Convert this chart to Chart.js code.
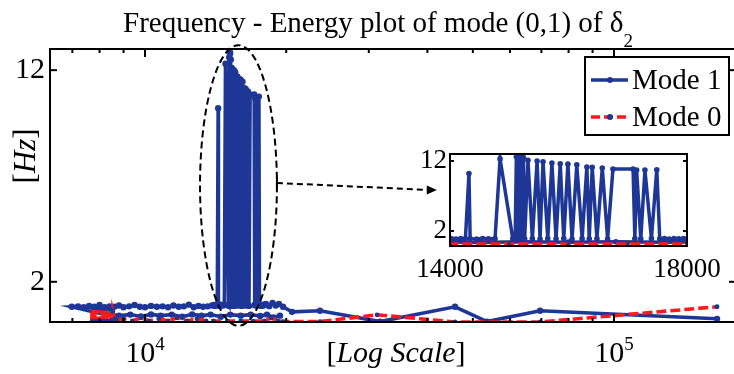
<!DOCTYPE html>
<html>
<head>
<meta charset="utf-8">
<script src="https://cdn.jsdelivr.net/npm/chart.js@4.4.0/dist/chart.umd.min.js"></script>
<style>
html, body { margin: 0; padding: 0; background: #fff; overflow: hidden; }
#wrap { position: relative; width: 734px; height: 374px; overflow: hidden; }
#main { position: absolute; left: 0; top: 0; }
#inset { position: absolute; left: 395px; top: 130px; }
</style>
</head>
<body>
<div id="wrap">
<canvas id="main" width="740" height="374"></canvas>
<canvas id="inset" width="340" height="160"></canvas>
</div>
<script>
// Mode 1 - in pieces (drawn in this order)
const lowerBandX = [19400, 18800, 18200, 17600, 16800, 16000, 15200, 14500, 13800, 13200, 12600, 12000, 11400, 10800, 10300, 9800, 9300, 8800, 8500, 8220]
const lowerBandY = [0.40, 0.32, 0.45, 0.38, 0.45, 0.40, 0.45, 0.35, 0.45, 0.40, 0.46, 0.35, 0.45, 0.40, 0.46, 0.36, 0.45, 0.40, 0.46, 0.44]
const upperBandX = [6980, 7200, 7400, 7600, 7800, 8000, 8200, 8400, 8600, 8800, 9000, 9250, 9500, 9750, 10000, 10300, 10600, 10900, 11200, 11500, 11800, 12100, 12400, 12700, 13000, 13300, 13600, 13900]
const upperBandY = [0.82, 0.84, 0.80, 0.86, 0.82, 0.90, 0.80, 0.84, 0.82, 0.88, 0.80, 0.84, 0.90, 0.82, 0.80, 0.86, 0.82, 0.84, 0.80, 0.88, 0.82, 0.84, 0.92, 0.80, 0.86, 0.82, 0.84, 0.88]
const burstX = [14020, 14100, 14180, 14260, 14320, 14340, 14450, 14550, 14650, 14760, 14845, 15060, 15100, 15120, 15135, 15150, 15170, 15190, 15210, 15240, 15260, 15316, 15390, 15470, 15520, 15570, 15650, 15720, 15790, 15860, 15920, 15990, 16060, 16140, 16230, 16310, 16350, 16400, 16480, 16570, 16660, 16750, 17090, 17120, 17150, 17220, 17290, 17400, 17490, 17540, 17620, 17700, 17780, 17860, 17940]
const burstY = [0.90, 0.86, 0.92, 0.88, 10.2, 0.90, 0.86, 0.92, 0.88, 0.90, 12.3, 0.90, 0.86, 12.6, 0.90, 12.95, 0.86, 12.8, 0.92, 12.5, 0.88, 12.1, 0.90, 12.0, 0.86, 11.9, 0.90, 11.7, 0.88, 11.6, 0.92, 11.55, 0.86, 11.45, 0.90, 11.15, 0.88, 11.1, 0.90, 11.0, 0.86, 10.85, 10.85, 0.90, 10.7, 0.88, 10.7, 0.92, 10.75, 0.88, 0.90, 0.86, 0.92, 0.88, 0.90]
const tailX = [18100, 18400, 18700, 19000, 19300, 19690, 20580, 23610, 31700, 45810, 53610, 69550, 165800]
const tailY = [0.95, 0.85, 1.0, 0.88, 0.95, 0.82, 0.58, 0.63, 0.12, 0.82, 0.12, 0.63, 0.25]

// Mode 0
const mode0X = [7700, 7710, 7760, 7770, 7820, 7830, 7880, 7890, 7940, 7950, 8000, 8010, 8070, 8080, 8140, 8150, 8210, 8220, 8290, 8300, 8370, 8380, 8450, 8460, 8530, 8540, 8620, 8700, 9000, 9400, 9800, 10200, 10700, 11200, 11700, 12300, 12900, 13500, 14000, 15000, 16000, 17000, 18000, 18600, 19200, 19690, 23610, 31240, 45810, 53600, 69550, 165800]
const mode0Y = [0.12, 0.78, 0.78, 0.12, 0.12, 0.78, 0.78, 0.12, 0.12, 0.76, 0.76, 0.12, 0.12, 0.76, 0.76, 0.14, 0.14, 0.74, 0.74, 0.14, 0.14, 0.72, 0.72, 0.16, 0.16, 0.60, 0.25, 0.20, 0.25, 0.15, 0.30, 0.15, 0.25, 0.15, 0.30, 0.15, 0.25, 0.15, 0.15, 0.14, 0.15, 0.14, 0.15, 0.30, 0.15, 0.12, 0.12, 0.44, 0.10, 0.10, 0.10, 0.82]

// ticks
const yTicks = [2, 12]
const xMinorTicks = [7000, 8000, 9000, 10000, 20000, 30000, 40000, 50000, 60000, 70000, 80000, 90000, 100000]
const xLabelTicks = [10000, 100000]
const xLabelExp = ['4', '5']
const insetXTicks = [14000, 18000]

// dashed ellipse round the burst, and arrow to the inset (data units)
const ellipseX = [13100, 19110]
const ellipseY = [-0.08, 13.18]
const arrowX = [19110, 41900]
const arrowY = [6.67, 6.34]

const blue = '#1e3796'
const red = '#ff1a1a'
const serif = "'Liberation Serif', 'Times New Roman', serif"

Chart.defaults.font.family = serif
Chart.defaults.color = '#000'

function pts(xs, ys) {
    return xs.map((x, i) => ({ x: x, y: ys[i] }))
}

const mode1 = pts([...lowerBandX, ...upperBandX, ...burstX, ...tailX], [...lowerBandY, ...upperBandY, ...burstY, ...tailY])
const mode0 = pts(mode0X, mode0Y)

function datasets(w, r) {
    return [{
        label: 'Mode 0',
        order: 0,
        data: mode0,
        borderColor: red,
        borderDash: [10, 4],
        borderWidth: w,
        pointRadius: r - 0.8,
        pointBorderWidth: 0,
        pointBackgroundColor: blue,
        tension: 0
    }, {
        label: 'Mode 1',
        order: 1,
        data: mode1,
        borderColor: blue,
        borderWidth: w,
        pointRadius: r,
        pointBorderWidth: 0,
        pointBackgroundColor: blue,
        tension: 0
    }]
}

function line(ctx, x1, y1, x2, y2) {
    ctx.beginPath()
    ctx.moveTo(x1, y1)
    ctx.lineTo(x2, y2)
    ctx.stroke()
}

// mixed upright/italic text, like matlab latex labels
function mixed(ctx, parts, size, cx, cy) {
    let w = 0
    parts.forEach(p => {
        ctx.font = (p[1] ? 'italic ' : '') + size + 'px ' + serif
        w += ctx.measureText(p[0]).width
    })
    let sx = cx - w / 2
    ctx.textAlign = 'left'
    ctx.textBaseline = 'alphabetic'
    parts.forEach(p => {
        ctx.font = (p[1] ? 'italic ' : '') + size + 'px ' + serif
        ctx.fillText(p[0], sx, cy)
        sx += ctx.measureText(p[0]).width
    })
}

const mainDeco = {
    id: 'mainDeco',
    afterDatasetsDraw(chart) {
        const { ctx, chartArea: a, scales: { x, y } } = chart
        ctx.save()
        ctx.fillStyle = '#000'
        ctx.strokeStyle = '#000'

        // ellipse + arrow
        const el = x.getPixelForValue(ellipseX[0]), er = x.getPixelForValue(ellipseX[1])
        const eb = y.getPixelForValue(ellipseY[0]), et = y.getPixelForValue(ellipseY[1])
        ctx.lineWidth = 2
        ctx.setLineDash([7, 4])
        ctx.beginPath()
        ctx.ellipse((el + er) / 2, (eb + et) / 2, (er - el) / 2, (eb - et) / 2, 0, 0, Math.PI * 2)
        ctx.stroke()
        const ax1 = x.getPixelForValue(arrowX[0]), ay1 = y.getPixelForValue(arrowY[0])
        const ax2 = x.getPixelForValue(arrowX[1]), ay2 = y.getPixelForValue(arrowY[1])
        ctx.setLineDash([6, 4])
        line(ctx, ax1, ay1, ax2 - 8, ay2)
        ctx.setLineDash([])
        line(ctx, ax1, ay1 - 6, ax1, ay1 + 6)
        ctx.beginPath()
        ctx.moveTo(ax2, ay2)
        ctx.lineTo(ax2 - 10, ay2 - 4.5)
        ctx.lineTo(ax2 - 10, ay2 + 4.5)
        ctx.closePath()
        ctx.fill()

        // box and inward ticks
        ctx.lineWidth = 2
        ctx.strokeRect(a.left, a.top, a.right - a.left, a.bottom - a.top)
        xMinorTicks.forEach(v => {
            const p = x.getPixelForValue(v)
            const len = xLabelTicks.includes(v) ? 8 : 4
            line(ctx, p, a.bottom, p, a.bottom - len)
            line(ctx, p, a.top, p, a.top + len)
        })
        yTicks.forEach(v => {
            const p = y.getPixelForValue(v)
            line(ctx, a.left, p, a.left + 7, p)
            line(ctx, a.right, p, a.right - 7, p)
        })

        // 10^4, 10^5
        xLabelTicks.forEach((v, i) => {
            const p = x.getPixelForValue(v)
            ctx.font = '30px ' + serif
            const wb = ctx.measureText('10').width
            ctx.font = '19px ' + serif
            const we = ctx.measureText(xLabelExp[i]).width
            const sx = p - (wb + we) / 2
            ctx.textAlign = 'left'
            ctx.textBaseline = 'alphabetic'
            ctx.font = '30px ' + serif
            ctx.fillText('10', sx, a.bottom + 40)
            ctx.font = '19px ' + serif
            ctx.fillText(xLabelExp[i], sx + wb, a.bottom + 28)
        })

        // axis titles
        mixed(ctx, [['[', false], ['Log Scale', true], [']', false]], 30, 396, a.bottom + 40)
        ctx.save()
        ctx.translate(35, 156)
        ctx.rotate(-Math.PI / 2)
        mixed(ctx, [['[', false], ['Hz', true], [']', false]], 31, 0, 0)
        ctx.restore()

        // title with subscript
        const t1 = 'Frequency - Energy plot of mode (0,1) of δ'
        ctx.font = '29px ' + serif
        const w1 = ctx.measureText(t1).width
        ctx.font = '19px ' + serif
        const w2 = ctx.measureText('2').width
        const tx = 378 - (w1 + w2) / 2
        ctx.font = '29px ' + serif
        ctx.fillText(t1, tx, 32)
        ctx.font = '19px ' + serif
        ctx.fillText('2', tx + w1, 47)

        // legend
        const lx = a.right - 151, ly = a.top + 8
        ctx.fillStyle = '#fff'
        ctx.fillRect(lx, ly, 144, 78)
        ctx.lineWidth = 2
        ctx.strokeRect(lx, ly, 144, 78)
        const rows = [['Mode 1', blue, []], ['Mode 0', red, [9, 4]]]
        rows.forEach((r, i) => {
            const ry = ly + 23 + i * 37
            ctx.strokeStyle = r[1]
            ctx.lineWidth = 3.5
            ctx.setLineDash(r[2])
            line(ctx, lx + 6, ry, lx + 43, ry)
            ctx.setLineDash([])
            ctx.fillStyle = blue
            ctx.beginPath()
            ctx.arc(lx + 25, ry, 3, 0, Math.PI * 2)
            ctx.fill()
            ctx.fillStyle = '#000'
            ctx.font = '29px ' + serif
            ctx.textAlign = 'left'
            ctx.textBaseline = 'middle'
            ctx.fillText(r[0], lx + 47, ry + 1)
        })
        ctx.restore()
    }
}

const insetDeco = {
    id: 'insetDeco',
    afterDatasetsDraw(chart) {
        const { ctx, chartArea: a, scales: { y } } = chart
        ctx.save()
        ctx.strokeStyle = '#000'
        ctx.lineWidth = 2
        ctx.strokeRect(a.left, a.top, a.right - a.left, a.bottom - a.top)
        yTicks.forEach(v => {
            const p = y.getPixelForValue(v)
            line(ctx, a.left, p, a.left + 4, p)
            line(ctx, a.right, p, a.right - 4, p)
        })
        ctx.restore()
    }
}

new Chart(document.getElementById('main'), {
    type: 'line',
    data: { datasets: datasets(3.6, 3.2) },
    options: {
        responsive: false,
        animation: false,
        layout: { padding: { top: 49, right: 4, left: 0, bottom: 0 } },
        plugins: { legend: { display: false }, tooltip: { enabled: false } },
        scales: {
            x: {
                type: 'logarithmic',
                min: 6272,
                max: 182000,
                grid: { display: false, drawTicks: false },
                border: { display: false },
                ticks: { display: false },
                afterFit: s => { s.height = 52 }
            },
            y: {
                type: 'linear',
                min: 0.1,
                max: 13,
                grid: { display: false, drawTicks: false },
                border: { display: false },
                afterBuildTicks: s => { s.ticks = yTicks.map(v => ({ value: v })) },
                afterFit: s => { s.width = 50 },
                ticks: { font: { size: 30 }, color: '#000', padding: 5 }
            }
        }
    },
    plugins: [mainDeco]
})

new Chart(document.getElementById('inset'), {
    type: 'line',
    data: { datasets: datasets(3.5, 2.8) },
    options: {
        responsive: false,
        animation: false,
        layout: { padding: { top: 24, right: 48, left: 0, bottom: 0 } },
        plugins: { legend: { display: false }, tooltip: { enabled: false } },
        scales: {
            x: {
                type: 'linear',
                min: 14000,
                max: 18000,
                grid: { display: false, drawTicks: false },
                border: { display: false },
                afterBuildTicks: s => { s.ticks = insetXTicks.map(v => ({ value: v })) },
                afterFit: s => { s.height = 44 },
                ticks: { font: { size: 27 }, color: '#000', padding: 8, maxRotation: 0, autoSkip: false, callback: v => String(v) }
            },
            y: {
                type: 'linear',
                min: -0.15,
                max: 13,
                grid: { display: false, drawTicks: false },
                border: { display: false },
                afterBuildTicks: s => { s.ticks = yTicks.map(v => ({ value: v })) },
                afterFit: s => { s.width = 55 },
                ticks: { font: { size: 27 }, color: '#000', padding: 3 }
            }
        }
    },
    plugins: [insetDeco]
})
</script>
</body>
</html>
